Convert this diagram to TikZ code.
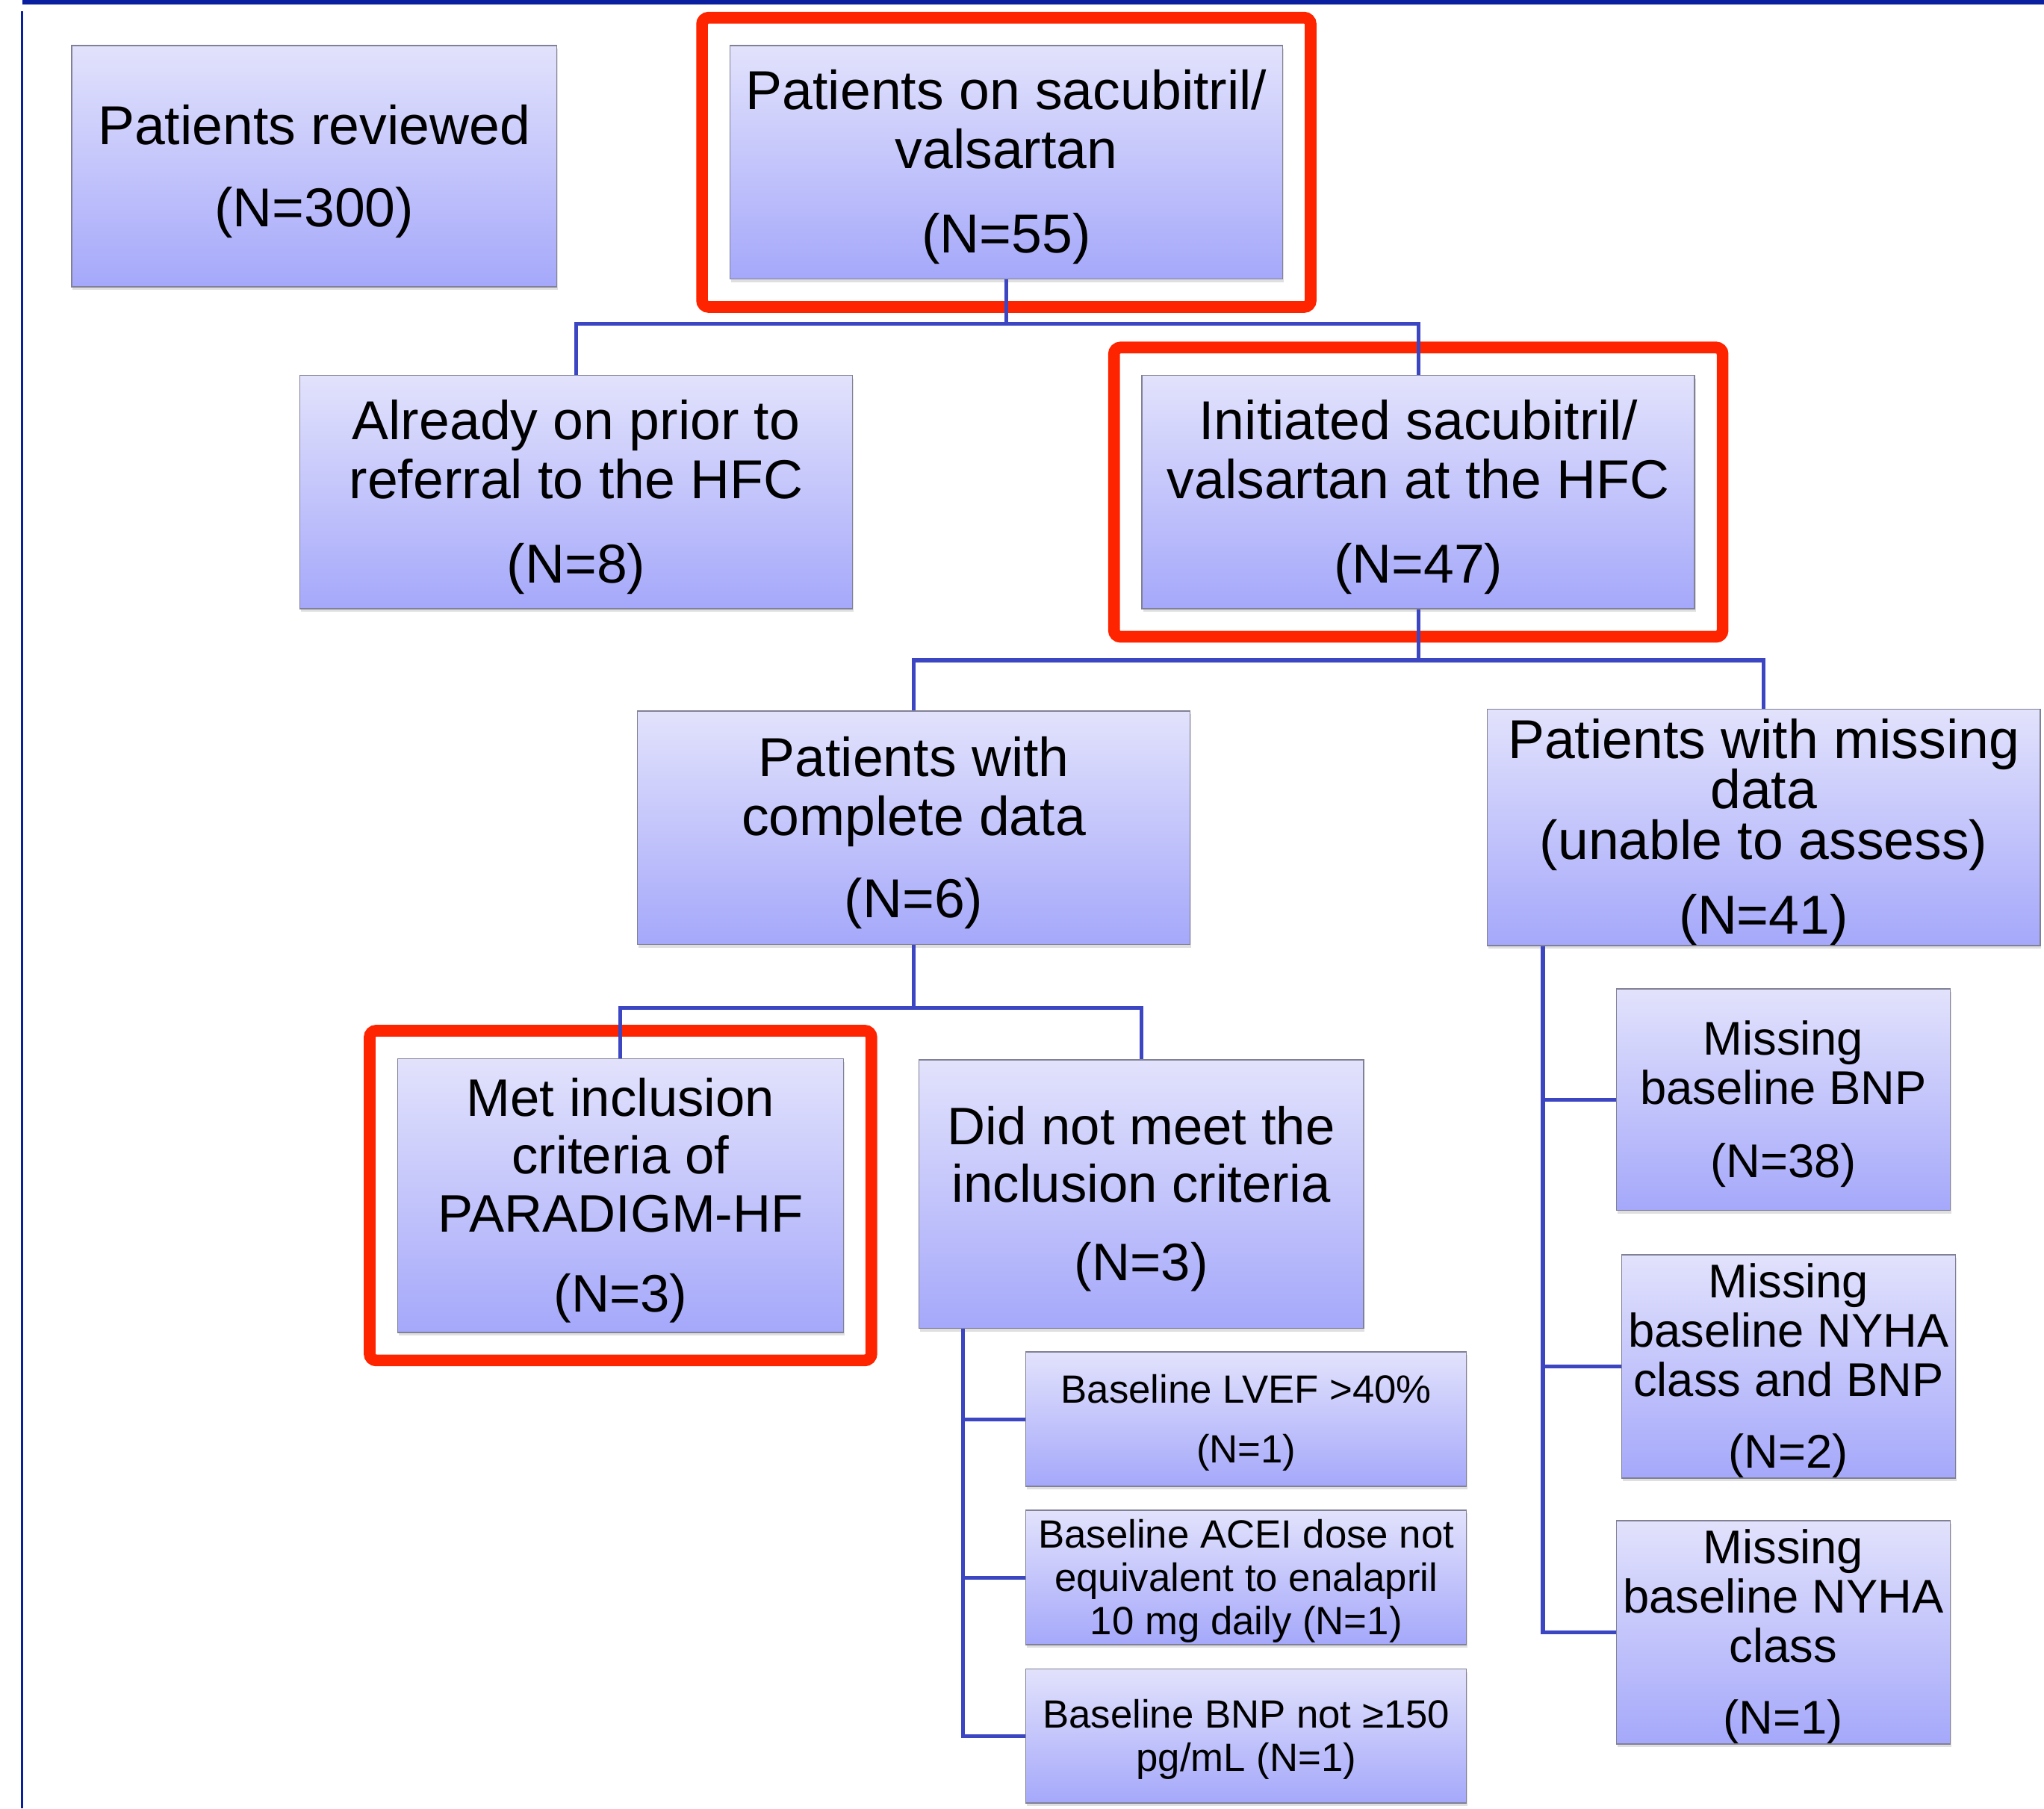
\documentclass[tikz,border=0pt]{standalone}
\usepackage{fontspec}
\setmainfont{Liberation Sans}
\usepackage{tikz}
\usetikzlibrary{calc, positioning, fit, shadows}
\definecolor{boxtop}{RGB}{226,226,252}
\definecolor{boxbottom}{RGB}{165,168,250}
\definecolor{boxedge}{RGB}{128,128,150}
\definecolor{linkblue}{RGB}{60,70,195}
\definecolor{framered}{RGB}{255,36,0}
\definecolor{barblue}{RGB}{10,30,160}
\newcommand{\fBig}{\fontsize{59.8pt}{64pt}\selectfont\lineskiplimit=-50pt}
\newcommand{\fTight}{\fontsize{59.8pt}{54.8pt}\selectfont\lineskiplimit=-50pt}
\newcommand{\fMet}{\fontsize{57.6pt}{63pt}\selectfont\lineskiplimit=-50pt}
\newcommand{\fMid}{\fontsize{51.6pt}{54pt}\selectfont\lineskiplimit=-50pt}
\newcommand{\fSmall}{\fontsize{43pt}{47pt}\selectfont\lineskiplimit=-50pt}
\newcommand{\lift}{\rule{0pt}{0.905em}}
\tikzstyle{box} = [rectangle, draw=boxedge, line width=1.2pt, top color=boxtop, bottom color=boxbottom, align=center, inner xsep=1mm, inner ysep=0pt, drop shadow={shadow xshift=0.4mm, shadow yshift=-1.2mm, opacity=0.25}]
\tikzstyle{bigbox} = [minimum width=212mm, minimum height=89.5mm, font=\fBig]
\tikzstyle{midbox} = [minimum width=128mm, minimum height=85mm, font=\fMid]
\tikzstyle{smallbox} = [minimum width=169mm, minimum height=51.5mm, font=\fSmall]
\tikzstyle{frame} = [draw=framered, line width=4.5mm, rounded corners=2.5mm, inner sep=10.5mm]
\tikzstyle{link} = [draw=linkblue, line width=1.45mm]
\begin{document}
\begin{tikzpicture}[x=0.5mm, y=-0.5mm]
		\useasboundingbox (0,0) rectangle (1568,1387);
		\fill [barblue] (17,0) rectangle (1568,3.4);
		\draw [barblue, line width=0.7mm] (16.8,8.6) -- (16.8,1387);
		\node (Reviewed) [box, minimum width=186mm, minimum height=92.5mm, font=\fBig] at (241,127.5) {\lift Patients reviewed\\[9mm](N=300)};
		\node (SacVal) [box, bigbox] at (772,124.5) {\lift Patients on sacubitril/\\valsartan\\[10mm](N=55)};
		\node (Prior) [box, bigbox] at (442,377.5) {\lift Already on prior to\\referral to the HFC\\[10mm](N=8)};
		\node (Initiated) [box, bigbox] at (1088,377.5) {\lift Initiated sacubitril/\\valsartan at the HFC\\[10mm](N=47)};
		\node (Complete) [box, bigbox] at (701,635) {\lift Patients with\\complete data\\[9mm](N=6)};
		\node (Missing) [box, bigbox, font=\fTight] at (1353,634.5) {\lift Patients with missing\\data\\(unable to assess)\\[9.5mm](N=41)};
		\node (Met) [box, minimum width=171mm, minimum height=105mm, font=\fMet] at (476,917) {\lift Met inclusion\\criteria of\\PARADIGM-HF\\[8.5mm](N=3)};
		\node (DidNot) [box, minimum width=170.5mm, minimum height=103mm, font=\fMet] at (875.5,916) {\lift Did not meet the\\inclusion criteria\\[8mm](N=3)};
		\node (Lvef) [box, smallbox] at (956,1088.5) {\lift Baseline LVEF >40\%\\[6.5mm](N=1)};
		\node (Acei) [box, smallbox] at (956,1210) {\lift Baseline ACEI dose not\\equivalent to enalapril\\10 mg daily (N=1)};
		\node (BnpLow) [box, smallbox] at (956,1331.5) {\lift Baseline BNP not ≥150\\pg/mL (N=1)};
		\node (MissBnp) [box, midbox] at (1368,843.5) {\lift Missing\\baseline BNP\\[9mm](N=38)};
		\node (MissNyhaBnp) [box, midbox] at (1372,1048) {\lift Missing\\baseline NYHA\\class and BNP\\[8.5mm](N=2)};
		\node (MissNyha) [box, midbox] at (1368,1252) {\lift Missing\\baseline NYHA\\class\\[8.5mm](N=1)};
		\node (SacValFrame) [frame, fit=(SacVal)] {};
		\node (InitiatedFrame) [frame, fit=(Initiated)] {};
		\node (MetFrame) [frame, fit=(Met)] {};
		\draw [link] (SacVal.south) -- ++(0,34) -| (Prior.north);
		\draw [link] (SacVal.south) -- ++(0,34) -| (Initiated.north);
		\draw [link] (Initiated.south) -- ++(0,39) -| (Complete.north);
		\draw [link] (Initiated.south) -- ++(0,39) -| (Missing.north);
		\draw [link] (Complete.south) -- ++(0,48) -| (Met.north);
		\draw [link] (Complete.south) -- ++(0,48) -| (DidNot.north);
		\foreach \leaf in {Lvef, Acei, BnpLow}
			\draw [link] ($(DidNot.south west)+(34,0)$) |- (\leaf.west);
		\foreach \leaf in {MissBnp, MissNyhaBnp, MissNyha}
			\draw [link] ($(Missing.south west)+(43,0)$) |- (\leaf.west);
\end{tikzpicture}
\end{document}
